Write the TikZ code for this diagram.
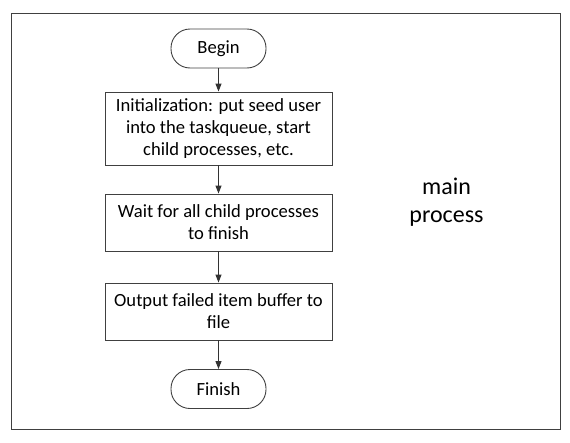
\documentclass[tikz,border=0pt]{standalone}
\usepackage{fontspec}
\setmainfont{Carlito}
\usepackage{tikz}
\usetikzlibrary{arrows.meta}
\usetikzlibrary{positioning}
\tikzset{basic box/.style={draw=black!75,line width=0.9pt}}
\tikzset{step box/.style={basic box,rectangle,minimum width=227pt,minimum height=57pt,
                          align=center,inner sep=2pt}}
\tikzset{term box/.style={basic box,rectangle,rounded corners=19pt,minimum width=95pt,
                          minimum height=39pt}}
\tikzset{edge/.style={draw=black!80,line width=0.9pt,-{Triangle[length=8pt,width=6pt]}}}

\begin{document}
\begin{tikzpicture}
  [
    x=1pt,y=-1pt,
    every node/.style={font=\fontsize{18.6}{22}\selectfont},
  ]
    \useasboundingbox (0,0) rectangle (570,442);

    % frame
    \draw [basic box] (11,13) rectangle (560,429);

    % nodes
    \node [term box] (B) at (218.5,48.5) {Begin};
    \node [step box,minimum height=73pt] (S1) at (218.5,128.5)
      {Initialization: put seed user\\into the taskqueue, start\\child processes, etc.};
    \node [step box] (S2) at (218.5,222.5) {Wait for all child processes\\to finish};
    \node [step box] (S3) at (218.5,311.5) {Output failed item buffer to\\file};
    \node [term box] (F) at (218.5,389) {Finish};

    \node [align=center,font=\fontsize{24}{28}\selectfont] (M) at (446.5,202) {main\\process};

    % edges
    \path [edge] (B) -- (S1);
    \path [edge] (S1) -- (S2);
    \path [edge] (S2) -- (S3);
    \path [edge] (S3) -- (F);

  \end{tikzpicture}
\end{document}
